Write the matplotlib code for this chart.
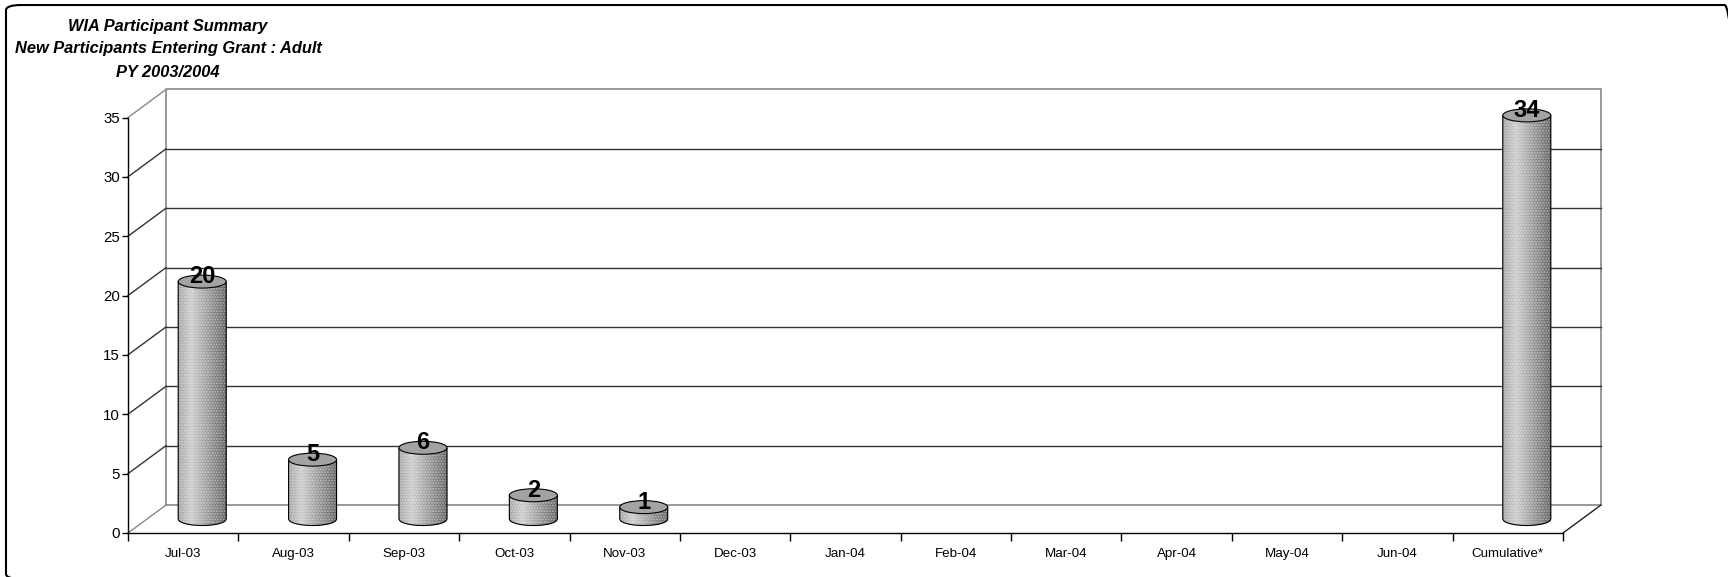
import numpy as np
import matplotlib.pyplot as plt
from matplotlib.collections import PolyCollection
from matplotlib.patches import Ellipse, PathPatch, FancyBboxPatch
from matplotlib.path import Path

plt.rcParams['font.family'] = ['Liberation Sans', 'DejaVu Sans']

months = ["Jul-03", "Aug-03", "Sep-03", "Oct-03", "Nov-03", "Dec-03", "Jan-04",
          "Feb-04", "Mar-04", "Apr-04", "May-04", "Jun-04", "Cumulative*"]
participants = [20, 5, 6, 2, 1, 0, 0, 0, 0, 0, 0, 0, 34]
y_ticks = [0, 5, 10, 15, 20, 25, 30, 35]
title_lines = ["WIA Participant Summary",
               "New Participants Entering Grant : Adult",
               "PY 2003/2004"]

W, H, DPI = 1728, 577, 100
fig = plt.figure(figsize=(W / DPI, H / DPI), dpi=DPI)

# rounded frame around the whole chart area (runs off the right/bottom edge)
frame = FancyBboxPatch((6 / W, 1 - 579 / H), 1734 / W, 574 / H,
                       boxstyle="round,pad=0,rounding_size=0.009",
                       transform=fig.transFigure, fill=False,
                       edgecolor="black", linewidth=1.5, clip_on=False)
fig.patches.append(frame)

for i, line in enumerate(title_lines):
    fig.text(168 / W, 1 - (26 + 23 * i) / H, line, ha="center", va="center",
             fontsize=11.8, fontweight="bold", fontstyle="italic")

ax = fig.add_axes([128 / W, 44 / H, 1435 / W, 415.5 / H])
n = len(months)
ymax = y_ticks[-1]
ax.set_xlim(-0.5, n - 0.5)
ax.set_ylim(0, ymax)
ax.patch.set_visible(False)
for side in ("top", "right"):
    ax.spines[side].set_visible(False)
for side in ("left", "bottom"):
    ax.spines[side].set_linewidth(1.0)
    ax.spines[side].set_zorder(6)

ax.set_yticks(y_ticks)
ax.tick_params(axis="y", length=4.3, width=1.0, pad=1.5, labelsize=10.8)
ax.set_xticks(range(n))
ax.set_xticklabels(months)
ax.set_xticks(np.arange(n + 1) - 0.5, minor=True)
ax.tick_params(axis="x", which="major", length=0, pad=10.5, labelsize=9.6)
ax.tick_params(axis="x", which="minor", length=5.8, width=1.0)

# depth of the fake 3d box, converted from pixels to data units
p0 = ax.transData.transform((0, 0))
p1 = ax.transData.transform((1, 1))
px_x, px_y = p1[0] - p0[0], p1[1] - p0[1]
ddx, ddy = 38 / px_x, 28 / px_y

frame_col = "#888888"
grid_col = "#333333"
x0, x1 = -0.5, n - 0.5

# back wall outline and gridlines
ax.plot([x0 + ddx, x1 + ddx, x1 + ddx, x0 + ddx, x0 + ddx],
        [ddy, ddy, ymax + ddy, ymax + ddy, ddy],
        color=frame_col, lw=1.2, clip_on=False, zorder=1)
for v in y_ticks:
    inner = 0 < v < ymax
    if inner:
        ax.plot([x0 + ddx, x1 + ddx], [v + ddy, v + ddy],
                color=grid_col, lw=1.0, clip_on=False, zorder=1)
    # left wall diagonals
    ax.plot([x0, x0 + ddx], [v, v + ddy],
            color=grid_col if inner else frame_col, lw=1.0, clip_on=False, zorder=1)
# right edge of the floor
ax.plot([x1, x1 + ddx], [0, ddy], color="#222222", lw=1.0, clip_on=False, zorder=1)

# cylinders
cyl_w = 48 / px_x
ry = 6.5 / px_y
shade_t = [0.0, 0.28, 1.0]
shade_g = [0.62, 0.80, 0.36]
nstrip = 60
for k, v in enumerate(participants):
    if v <= 0:
        continue
    cx = k + ddx / 2
    yb = ddy / 2
    yt = v + ddy / 2
    xs = np.linspace(cx - cyl_w / 2, cx + cyl_w / 2, nstrip + 1)
    u = np.clip((xs - cx) / (cyl_w / 2), -1, 1)
    lower = yb - ry * np.sqrt(1 - u ** 2)
    polys, cols = [], []
    for i in range(nstrip):
        polys.append([(xs[i], lower[i]), (xs[i + 1], lower[i + 1]),
                      (xs[i + 1], yt), (xs[i], yt)])
        g = np.interp((i + 0.5) / nstrip, shade_t, shade_g)
        cols.append((g, g, g))
    pc = PolyCollection(polys, facecolors=cols, edgecolors=cols, linewidths=0.4,
                        zorder=3, clip_on=False)
    ax.add_collection(pc)

    # outline: sides + front half of base ellipse
    outline = [(xs[0], yt)] + list(zip(xs, lower)) + [(xs[-1], yt)]
    texture = PathPatch(Path(outline + [(xs[0], yt)]), facecolor="none",
                        edgecolor="#f4f4f4", hatch="......", lw=0, alpha=0.5,
                        zorder=3.5, clip_on=False)
    ax.add_patch(texture)
    body = PathPatch(Path(outline), fill=False, edgecolor="black", lw=0.8,
                     zorder=4, clip_on=False)
    ax.add_patch(body)

    top = Ellipse((cx, yt), cyl_w, 2 * ry, facecolor="#a3a3a3",
                  edgecolor="black", lw=0.8, zorder=4, clip_on=False)
    ax.add_patch(top)

    ax.annotate(str(v), xy=(cx, yt), xytext=(0, -1), textcoords="offset points",
                ha="center", va="baseline", fontsize=17, fontweight="bold",
                zorder=7, annotation_clip=False)

fig.savefig("out.png", dpi=DPI)
